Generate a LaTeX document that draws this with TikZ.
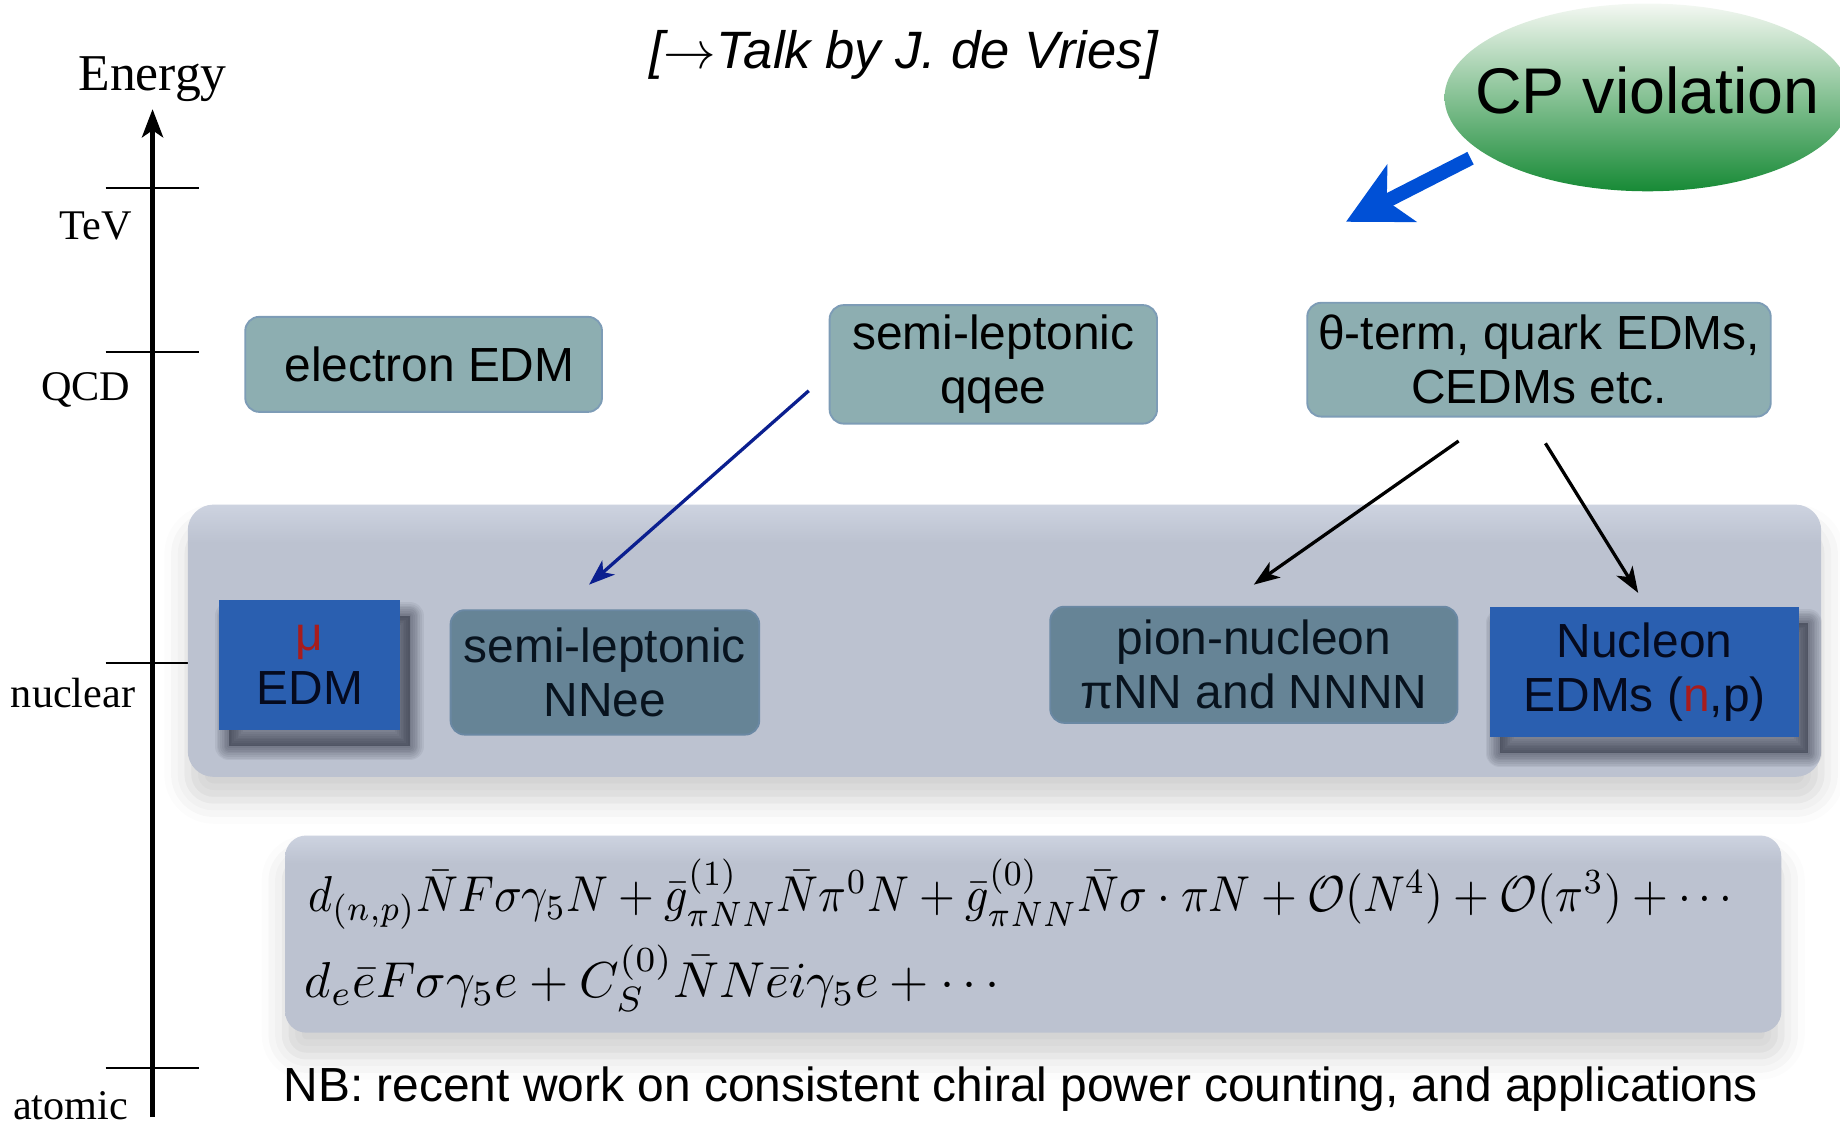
\RequirePackage{fix-cm}
\documentclass[tikz,border=0pt]{standalone}
\usepackage{fontspec}
\setmainfont{Liberation Sans}
\newfontfamily\serifface{Liberation Serif}
\usetikzlibrary{arrows.meta,shapes.geometric,shadows.blur}

\definecolor{panelMain}{HTML}{BCC2D0}
\definecolor{panelTop}{HTML}{CDD3E0}
\definecolor{tealLight}{HTML}{8DAEB1}
\definecolor{tealLightEdge}{HTML}{7D9CB6}
\definecolor{tealDark}{HTML}{668496}
\definecolor{tealDarkEdge}{HTML}{6A88A3}
\definecolor{edmBlue}{HTML}{2A5FB0}
\definecolor{inkDark}{HTML}{08131E}
\definecolor{inkBlue}{HTML}{050A1E}
\definecolor{redMark}{HTML}{A81C1C}
\definecolor{navyArrow}{HTML}{0B1F8F}
\definecolor{cpArrow}{HTML}{0050D6}
\definecolor{cpTop}{HTML}{F4F8F2}
\definecolor{cpMid}{HTML}{A3D0A3}
\definecolor{cpBot}{HTML}{178A36}
\definecolor{shadowInk}{HTML}{1C2130}

% light band along the top edge of the grey panels
\pgfdeclareverticalshading{panelshade}{100bp}{color(0bp)=(panelMain); color(25bp)=(panelMain); color(68bp)=(panelMain); color(75bp)=(panelTop); color(100bp)=(panelTop)}

\newcommand{\boxfont}{\fontsize{10.2}{11.5}\selectfont}
\newcommand{\axlabfont}{\serifface\fontsize{9}{10}\selectfont}

\begin{document}
\begin{tikzpicture}[x=0.25pt,y=-0.25pt,
  panel/.style={shade, shading=panelshade, rounded corners=5.5pt, draw=none, inner sep=0pt,
    blur shadow={shadow xshift=0pt, shadow yshift=-5pt, shadow blur radius=5pt, shadow opacity=18}},
  upbox/.style={draw=tealLightEdge, line width=0.4pt, fill=tealLight, rounded corners=3pt,
    align=center, font=\boxfont, inner sep=0pt, text=black},
  lowbox/.style={draw=tealDarkEdge, line width=0.4pt, fill=tealDark, rounded corners=3pt,
    align=center, font=\boxfont, inner sep=0pt, text=inkDark},
  % one ring of the soft shadow under the blue boxes
  shadowring/.style={preaction={draw=shadowInk, draw opacity=0.065, line width=#1, line join=round,
    transform canvas={xshift=2pt, yshift=-3.5pt}}},
  bluebox/.style={fill=edmBlue, draw=none, align=center, font=\boxfont, inner sep=0pt, text=inkBlue,
    preaction={fill=shadowInk, fill opacity=0.4, transform canvas={xshift=2pt, yshift=-3.5pt}},
    shadowring=0.75pt, shadowring=1.5pt, shadowring=2.25pt, shadowring=3pt,
    shadowring=3.75pt, shadowring=4.5pt, shadowring=5.25pt, shadowring=6pt},
  cpshape/.style={ellipse, draw=none, minimum width=86.5pt, minimum height=40pt, inner sep=0pt,
    top color=cpTop, middle color=cpMid, bottom color=cpBot},
  axisline/.style={line width=1pt, -{Stealth[length=6pt,width=4.5pt,inset=1.5pt]}},
  tickline/.style={line width=0.45pt},
  axlabel/.style={font=\axlabfont, inner sep=0pt},
  thinarrow/.style={line width=0.7pt, -{Stealth[length=5.5pt,width=4pt,inset=1.5pt]}},
  bigarrow/.style={draw=cpArrow, line width=3pt, -{Stealth[length=13.25pt,width=13.5pt,inset=3.5pt]}},
  eqfont/.style={anchor=base west, inner sep=0pt, font=\fontsize{10.75}{13}\selectfont}
]
\useasboundingbox (0,0) rectangle (1568,955);

% energy axis with scale marks
\coordinate (axbot) at (130,952);
\coordinate (axtop) at (130,93);
\draw[axisline] (axbot) -- (axtop);
\node[font=\serifface\fontsize{11}{13}\selectfont, anchor=base, inner sep=0pt] (energy) at (130,77) {Energy};
\foreach \yy in {160,300,565,910}
  \draw[tickline] (90,\yy) -- (170,\yy);
\node[axlabel, anchor=base east] (tev) at (113,204) {TeV};
\node[axlabel, anchor=base east] (qcd) at (112,341) {QCD};
\node[axlabel, anchor=base east] (nuclear) at (116,603) {nuclear};
\node[axlabel, anchor=base east] (atomic) at (110,954) {atomic};

% title reference
\node[font=\fontsize{11.2}{13}\selectfont\itshape, anchor=base, inner sep=0pt] (talk) at (770,58)
  {[$\rightarrow$Talk by J. de Vries]};

% source of CP violation
\node[cpshape] (cp) at (1404,83) {};
\node[font=\fontsize{13.75}{16}\selectfont, anchor=base, inner sep=0pt] (cptext) at (1404,96.5) {CP violation};
\coordinate (cptip) at (1147,189);
\draw[bigarrow] ([shift={(-14,2)}]cp.200) -- (cptip);

% nuclear-scale panel
\node[panel, minimum width=348pt, minimum height=58pt] (nucpanel) at (856,546) {};

% high-scale operators
\node[upbox, minimum width=76pt, minimum height=20.25pt] (eedm) at (361,310.5) {\hspace*{2.5pt}electron EDM};
\node[upbox, minimum width=69.75pt, minimum height=25.25pt] (qqee) at (846.5,310.5) {semi-leptonic\\qqee};
\node[upbox, minimum width=98.75pt, minimum height=24.25pt] (theta) at (1311.5,306.5) {θ-term, quark EDMs,\\CEDMs etc.};

% low-energy operators
\node[bluebox, minimum width=38.5pt, minimum height=27.75pt] (muedm) at (264,566.5) {\textcolor{redMark}{μ}\\EDM};
\node[lowbox, minimum width=65.75pt, minimum height=26.5pt] (nnee) at (515.5,573) {semi-leptonic\\NNee};
\node[lowbox, minimum width=86.75pt, minimum height=24.75pt] (pion) at (1068.5,566.5) {pion-nucleon\\πNN and NNNN};
\node[bluebox, minimum width=65.75pt, minimum height=27.75pt] (nucleon) at (1401.5,572.5) {Nucleon\\EDMs (\textcolor{redMark}{n},p)};

% matching arrows
\draw[thinarrow, navyArrow] ([shift={(-17,22.5)}]qqee.west) -- ([shift={(-13.5,-21)}]nnee.north);
\draw[thinarrow] ([shift={(-68.5,20)}]theta.south) -- ([shift={(0,-18)}]pion.north);
\draw[thinarrow] ([shift={(5.5,22)}]theta.south) -- ([shift={(-5.5,-11)}]nucleon.north);

% effective Lagrangian
\node[panel, rounded corners=4.5pt, minimum width=318.75pt, minimum height=42pt] (fpanel) at (880.5,796) {};
\node[eqfont] (eqnuc) at (262,777)
  {\scalebox{0.913}[1]{$d_{(n,p)}\bar{N}F\sigma\gamma_5N+\bar{g}^{(1)}_{\pi NN}\bar{N}\pi^0N+\bar{g}^{(0)}_{\pi NN}\bar{N}\sigma\cdot\pi N+\mathcal{O}(N^4)+\mathcal{O}(\pi^3)+\cdots$}};
\node[eqfont] (eqel) at (259,850)
  {$d_e\bar{e}F\sigma\gamma_5e+C_S^{(0)}\bar{N}N\bar{e}i\gamma_5e+\cdots$};

\node[anchor=base west, inner sep=0pt, font=\boxfont] (nb) at (241,939)
  {NB: recent work on consistent chiral power counting, and applications};
\end{tikzpicture}
\end{document}
